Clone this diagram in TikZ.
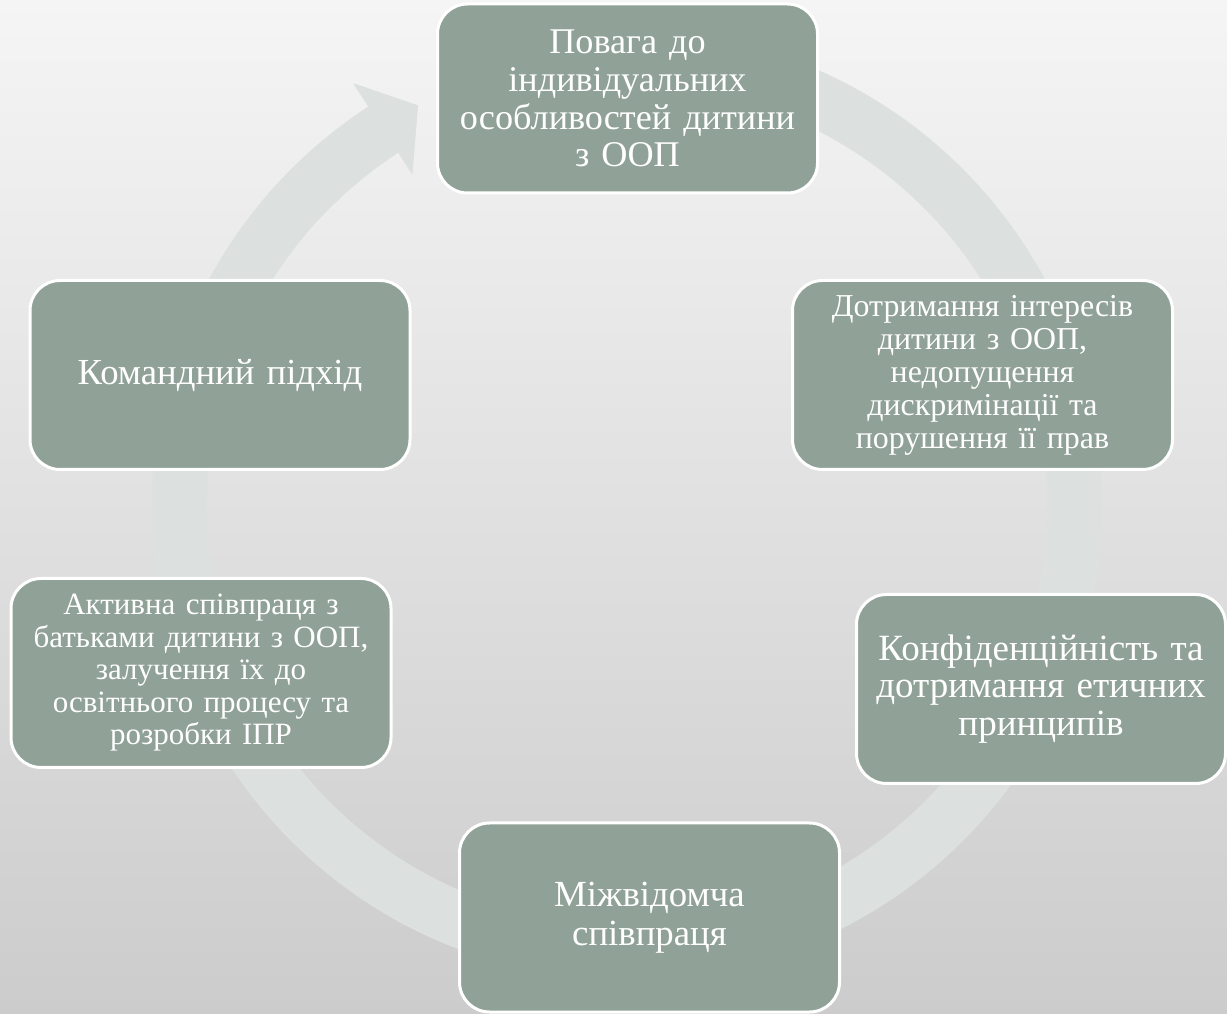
\documentclass[tikz,border=0pt]{standalone}
\usepackage{fontspec}
\setmainfont{Liberation Serif}
\usepackage{tikz}
\usetikzlibrary{calc}
\definecolor{boxgreen}{RGB}{144,161,151}
\definecolor{ringgrey}{RGB}{220,224,223}
\definecolor{bgtop}{RGB}{245,245,245}
\definecolor{bgbottom}{RGB}{204,204,204}
\tikzstyle{princip} = [rectangle, rounded corners=30pt, minimum width=380pt, minimum height=189pt, text width=366pt, text centered, draw=white, line width=3pt, fill=boxgreen, text=white]
\newcommand{\fsz}[2]{\fontsize{#1}{#2}\selectfont}

\begin{document}
\begin{tikzpicture}[x=1pt, y=1pt]
		\useasboundingbox (0,0) rectangle (1227,1013);
		\shade[top color=bgtop, bottom color=bgbottom] (0,0) rectangle (1227,1013);
		% circular arrow behind the boxes
		\coordinate (c) at (627,508);
		\fill[ringgrey] ($(c)+(80:475pt)$) arc[start angle=80, end angle=-237, radius=475pt]
			-- ($(c)+(-237:503pt)$) -- ($(c)+(-242.4:451pt)$) -- ($(c)+(-237:394pt)$)
			-- ($(c)+(-237:420pt)$) arc[start angle=-237, end angle=80, radius=420pt] -- cycle;
		\node (povaga) [princip, font=\fsz{36.2}{37.7}] at (627.5,914.5) {Повага до\\ індивідуальних\\ особливостей дитини\\ з ООП};
		\node (interesy) [princip, font=\fsz{31.9}{33}] at (982.5,638) {Дотримання інтересів\\ дитини з ООП,\\ недопущення\\ дискримінації та\\ порушення її прав};
		\node (etyka) [princip, minimum width=369pt, text width=356pt, font=\fsz{37}{37.5}] at (1041,324) {Конфіденційність та\\ дотримання етичних\\ принципів};
		\node (vidomstva) [princip, font=\fsz{36.8}{38.5}] at (649.5,95.5) {Міжвідомча\\ співпраця};
		\node (batky) [princip, font=\fsz{31}{32.5}] at (201,340) {Активна співпраця з\\ батьками дитини з ООП,\\ залучення їх до\\ освітнього процесу та\\ розробки ІПР};
		\node (komanda) [princip, font=\fsz{36.7}{38}] at (220,638) {Командний підхід};
	\end{tikzpicture}
\end{document}
